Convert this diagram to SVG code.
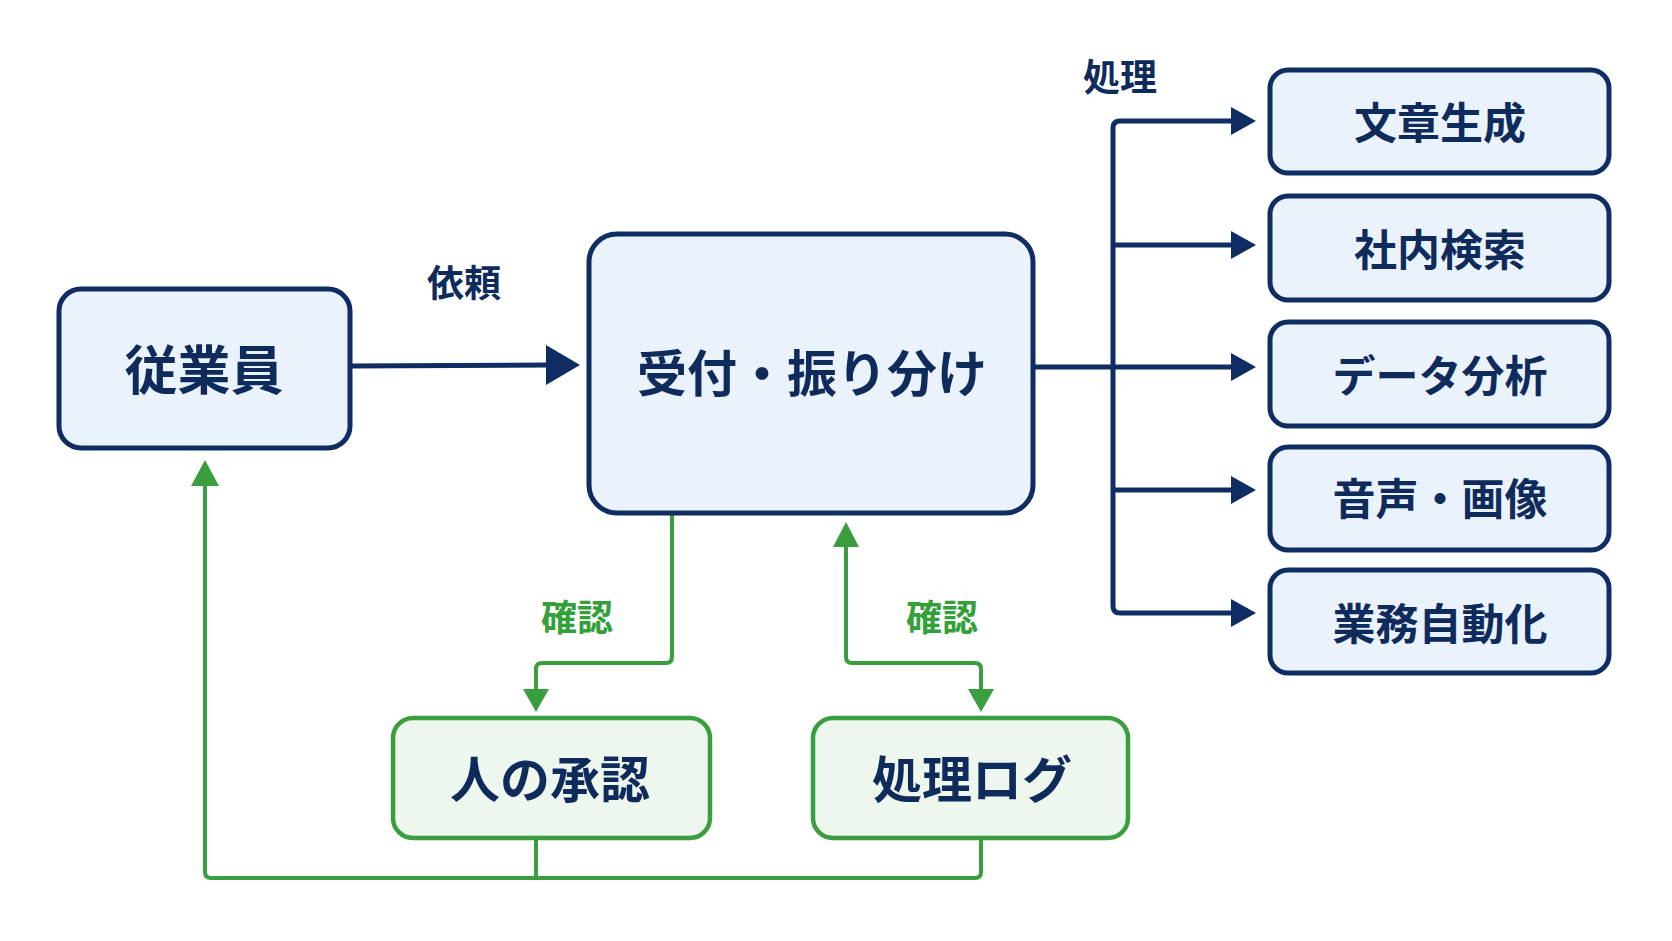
<svg xmlns="http://www.w3.org/2000/svg" width="1672" height="941" viewBox="0 0 1672 941">
<style>
.bn{fill:#eaf2fc;stroke:#0f2d62;stroke-width:5}
.gn{fill:#edf7ed;stroke:#3a9e3f;stroke-width:4.5}
.t{font-family:"Noto Sans CJK JP","Noto Sans CJK SC",sans-serif;font-weight:700;fill:#0f2b5c;text-anchor:middle;dominant-baseline:central}
.lb{font-family:"Noto Sans CJK JP","Noto Sans CJK SC",sans-serif;font-weight:700;fill:#0f2b5c;text-anchor:middle;dominant-baseline:central;font-size:37px}
.lg{font-family:"Noto Sans CJK JP","Noto Sans CJK SC",sans-serif;font-weight:700;fill:#34a03a;text-anchor:middle;dominant-baseline:central;font-size:36px}
.cb{fill:none;stroke:#0f2d62;stroke-width:5;stroke-linejoin:round}
.cg{fill:none;stroke:#3a9e3f;stroke-width:4;stroke-linejoin:round}
.ab{fill:#0f2d62}
.ag{fill:#3a9e3f}
</style>
<rect width="1672" height="941" fill="#ffffff"/>
<g id="connectors">
  <path class="cb" d="M350 366 L548 365"/>
  <polygon class="ab" points="546,345 580,365 546,385"/>
  <text class="lb" x="464" y="281">依頼</text>
  <path class="cb" d="M1033 367 L1236 367"/>
  <path class="cb" d="M1236 121 L1120 121 Q1113 121 1113 128 L1113 606 Q1113 613 1120 613 L1236 613"/>
  <path class="cb" d="M1113 245 L1236 245"/>
  <path class="cb" d="M1113 490 L1236 490"/>
  <polygon class="ab" points="1231,107 1256,121 1231,135"/>
  <polygon class="ab" points="1231,231 1256,245 1231,259"/>
  <polygon class="ab" points="1231,353 1256,367 1231,381"/>
  <polygon class="ab" points="1231,476 1256,490 1231,504"/>
  <polygon class="ab" points="1231,599 1256,613 1231,627"/>
  <text class="lb" x="1120" y="75">処理</text>
  <path class="cg" d="M672 514 L672 657 Q672 663 666 663 L542 663 Q536 663 536 669 L536 692"/>
  <polygon class="ag" points="523,689 549,689 536,712"/>
  <text class="lg" x="577" y="615">確認</text>
  <path class="cg" d="M846 544 L846 657 Q846 663 852 663 L975 663 Q981 663 981 669 L981 692"/>
  <polygon class="ag" points="833,547 859,547 846,522"/>
  <polygon class="ag" points="968,689 994,689 981,712"/>
  <text class="lg" x="942" y="615">確認</text>
  <path class="cg" d="M536 839 L536 878"/>
  <path class="cg" d="M981 839 L981 872 Q981 878 975 878 L211 878 Q205 878 205 872 L205 482"/>
  <polygon class="ag" points="191,486 219,486 205,460"/>
</g>
<g id="node-employee">
  <rect class="bn" x="59" y="289" width="291" height="159" rx="22"/>
  <text class="t" x="204" y="367" font-size="53">従業員</text>
</g>
<g id="node-reception">
  <rect class="bn" x="589" y="234" width="444" height="279" rx="28"/>
  <text class="t" x="812" y="370" font-size="50">受付・振り分け</text>
</g>
<g id="node-text">
  <rect class="bn" x="1270" y="70" width="339" height="103" rx="18"/>
  <text class="t" x="1440" y="120" font-size="43">文章生成</text>
</g>
<g id="node-search">
  <rect class="bn" x="1270" y="196" width="339" height="104" rx="18"/>
  <text class="t" x="1440" y="247" font-size="43">社内検索</text>
</g>
<g id="node-data">
  <rect class="bn" x="1270" y="322" width="339" height="104" rx="18"/>
  <text class="t" x="1440" y="373" font-size="43">データ分析</text>
</g>
<g id="node-media">
  <rect class="bn" x="1270" y="447" width="339" height="103" rx="18"/>
  <text class="t" x="1440" y="496" font-size="43">音声・画像</text>
</g>
<g id="node-automation">
  <rect class="bn" x="1270" y="570" width="339" height="103" rx="18"/>
  <text class="t" x="1440" y="621" font-size="43">業務自動化</text>
</g>
<g id="node-approval">
  <rect class="gn" x="393" y="718" width="317" height="120" rx="20"/>
  <text class="t" x="550" y="776" font-size="50">人の承認</text>
</g>
<g id="node-log">
  <rect class="gn" x="813" y="718" width="315" height="120" rx="20"/>
  <text class="t" x="972" y="776" font-size="50">処理ログ</text>
</g>
</svg>
